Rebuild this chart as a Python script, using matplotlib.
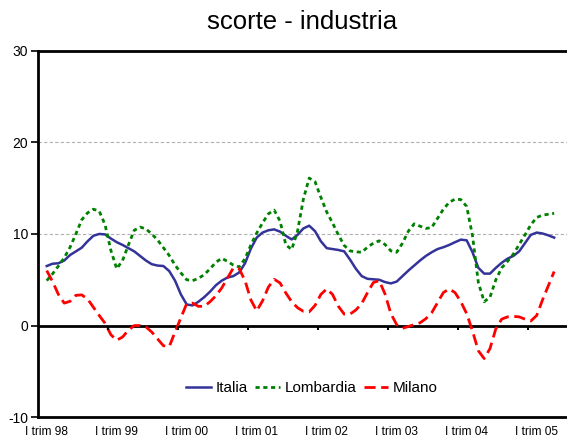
import numpy as np
import matplotlib.pyplot as plt

plt.rcParams['font.family'] = ['Liberation Sans', 'DejaVu Sans']
plt.rcParams['axes.unicode_minus'] = False

# monthly values, Feb 98 - May 05
italia = [6.5, 6.75, 6.8, 7.1, 7.7, 8.1, 8.5, 9.2, 9.8, 10.0, 9.95, 9.5,
          9.1, 8.8, 8.45, 8.1, 7.6, 7.1, 6.7, 6.55, 6.5, 5.95, 4.9, 3.4,
          2.3, 2.2, 2.6, 3.1, 3.7, 4.4, 4.9, 5.25, 5.4, 5.8, 6.8, 8.4,
          9.6, 10.15, 10.4, 10.5, 10.25, 9.8, 9.4, 9.9, 10.6, 10.9, 10.3, 9.2,
          8.45, 8.35, 8.25, 8.1, 7.2, 6.2, 5.4, 5.1, 5.05, 5.0, 4.75, 4.6,
          4.8, 5.4, 6.0, 6.55, 7.1, 7.6, 8.0, 8.35, 8.55, 8.8, 9.1, 9.38,
          9.3, 8.0, 6.3, 5.67, 5.67, 6.3, 6.85, 7.3, 7.6, 8.1, 9.0, 9.9,
          10.15, 10.05, 9.85, 9.6]
lombardia = [4.9, 5.65, 6.5, 7.4, 8.55, 10.0, 11.55, 12.3, 12.7, 12.5, 11.0, 8.2,
             6.2, 7.1, 8.8, 10.4, 10.75, 10.55, 10.0, 9.35, 8.5, 7.65, 6.6, 5.75,
             5.0, 4.9, 5.15, 5.55, 6.2, 6.9, 7.35, 7.0, 6.6, 6.4, 7.3, 8.8,
             10.1, 11.2, 12.2, 12.6, 11.4, 8.8, 8.3, 10.3, 13.8, 16.1, 15.7, 14.0,
             12.4, 11.2, 9.9, 8.75, 8.15, 8.05, 8.0, 8.55, 9.0, 9.25, 8.85, 8.15,
             8.0, 9.0, 10.3, 11.1, 10.85, 10.6, 10.7, 11.7, 12.7, 13.45, 13.8, 13.75,
             13.0, 9.8, 4.7, 2.6, 3.1, 5.0, 6.3, 7.0, 7.8, 8.85, 9.9, 11.0,
             11.8, 12.05, 12.15, 12.25]
milano = [6.0, 4.8, 3.4, 2.45, 2.65, 3.3, 3.35, 2.9, 2.0, 1.1, 0.25, -1.0,
          -1.6, -1.25, -0.5, 0.0, 0.0, -0.15, -0.7, -1.45, -2.2, -2.3, -0.7, 0.85,
          2.4, 2.45, 2.1, 2.1, 2.6, 3.25, 4.1, 5.2, 6.3, 6.2, 4.9, 2.8,
          1.6, 2.7, 4.2, 5.05, 4.65, 3.55, 2.6, 1.95, 1.55, 1.5, 2.2, 3.4,
          4.0, 3.4, 2.1, 1.25, 1.25, 1.7, 2.4, 3.6, 4.7, 4.9, 3.45, 1.3,
          0.1, -0.3, -0.1, 0.1, 0.3, 0.75, 1.4, 2.5, 3.6, 4.0, 3.6, 2.6,
          1.3, -0.6, -2.75, -3.6, -2.5, -0.35, 0.7, 0.95, 1.0, 0.95, 0.7, 0.5,
          1.1, 2.8, 4.35, 5.9]
tick_labels = ['I trim 98', 'I trim 99', 'I trim 00', 'I trim 01',
               'I trim 02', 'I trim 03', 'I trim 04', 'I trim 05']

x = np.arange(len(italia))

fig = plt.figure(figsize=(5.67, 4.41), dpi=100)
ax = fig.add_axes([0.067, 0.054, 0.933, 0.831])

ax.plot(x, italia, color='#333399', lw=1.8, label='Italia')
ax.plot(x, lombardia, color='#008000', lw=2, linestyle=(0, (1.5, 1.3)), label='Lombardia')
ax.plot(x, milano, color='#FF0000', lw=2, linestyle=(0, (4, 2)), label='Milano')

ax.set_xlim(-1.5, 89.2)
ax.set_ylim(-10, 30)
ax.set_yticks([-10, 0, 10, 20, 30])
ax.tick_params(axis='y', direction='out', length=5, width=1.2, labelsize=10, pad=2)
ax.set_xticks(np.arange(len(tick_labels)) * 12)
ax.set_xticklabels(tick_labels, fontsize=8.6)
ax.tick_params(axis='x', length=0, pad=6)

ax.grid(axis='y', color='#b0b0b0', lw=0.8, linestyle=(0, (3, 2)))
ax.set_axisbelow(True)
ax.axhline(0, color='black', lw=2, zorder=1.5)
# tick marks on the zero line at year boundaries
ax.vlines(np.arange(1, 8) * 12 - 1.5, -0.45, 0, color='black', lw=1.5)

for side in ['left', 'top', 'bottom']:
    ax.spines[side].set_linewidth(2)
ax.spines['right'].set_visible(False)

ax.legend(loc='center', bbox_to_anchor=(0.518, 0.08), ncol=3, frameon=False,
          fontsize=11, handlelength=1.6, handletextpad=0.3, columnspacing=0.5)

fig.text(0.532, 0.951, 'scorte - industria', fontsize=18.5, ha='center', va='center')

fig.savefig('out.png', dpi=100)
